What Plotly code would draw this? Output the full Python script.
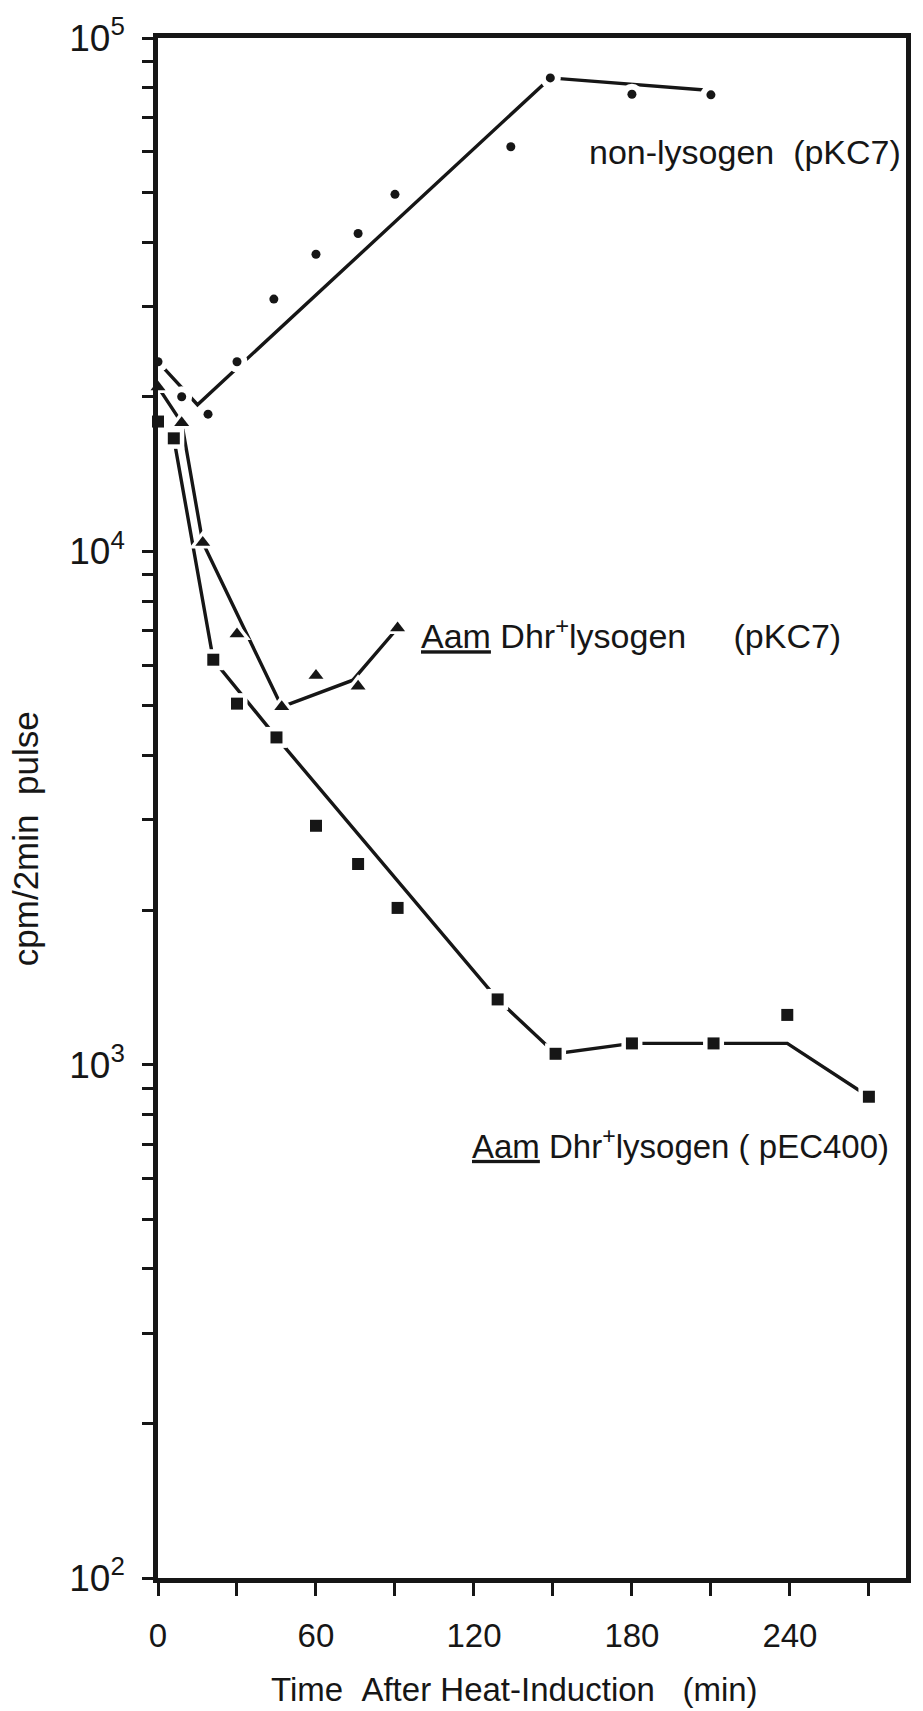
import plotly.graph_objects as go

# ---------------- data ----------------
# non-lysogen (pKC7): filled dots
nonlys_t = [0, 9, 19, 30, 44, 60, 76, 90, 134, 149, 180, 210]
nonlys_v = [23400, 20000, 18500, 23400, 31000, 37900, 41600, 49600, 61400, 83600, 77700, 77500]
# hand-drawn curve through the non-lysogen data
nonlys_line_t = [0, 15, 149, 210]
nonlys_line_v = [23400, 19300, 83600, 79000]

# Aam Dhr+ lysogen (pKC7): triangles
tri_t = [0, 9, 17, 30, 47, 60, 76, 91]
tri_v = [20900, 17800, 10400, 6900, 4980, 5730, 5460, 7090]
tri_line_t = [0, 9, 17, 47, 74, 91]
tri_line_v = [20900, 17800, 10400, 4980, 5610, 7090]

# Aam Dhr+ lysogen (pEC400): squares
sq_t = [0, 6, 21, 30, 45, 60, 76, 91, 129, 151, 180, 211, 239, 270]
sq_v = [17900, 16600, 6150, 5050, 4340, 2920, 2460, 2020, 1340, 1050, 1100, 1100, 1250, 866]
sq_line_t = [0, 6, 21, 45, 129, 151, 180, 211, 239, 270]
sq_line_v = [17900, 16600, 6150, 4340, 1340, 1050, 1100, 1100, 1100, 866]

# axis ticks
x_tick_vals = [0, 30, 60, 90, 120, 150, 180, 210, 240, 270]
x_tick_text = ["0", "", "60", "", "120", "", "180", "", "240", ""]
y_decades = [2, 3, 4]
y_tick_vals = [k * 10 ** d for d in y_decades for k in range(1, 10)] + [10 ** 5]
y_tick_text = [("10<sup>%d</sup>" % d if k == 1 else "") for d in y_decades for k in range(1, 10)] + ["10<sup>5</sup>"]

label_nonlys = "non-lysogen\u00a0\u00a0(pKC7)"
label_tri = "<u>Aam</u>\u00a0Dhr<sup>+</sup>lysogen\u00a0\u00a0\u00a0\u00a0\u00a0(pKC7)"
label_sq = "<u>Aam</u>\u00a0Dhr<sup>+</sup>lysogen\u00a0(\u00a0pEC400)"
x_title = "Time\u00a0\u00a0After\u00a0Heat-Induction\u00a0\u00a0\u00a0(min)"
y_title = "cpm/2min\u00a0\u00a0pulse"

# ---------------- figure ----------------
INK = "#161616"
FONT = "Liberation Sans, Arial, Helvetica, sans-serif"
W, H = 923, 1711
ML, MR, MT, MB = 158, 15, 30, 133

fig = go.Figure()

# curves
for xs, ys in [(nonlys_line_t, nonlys_line_v), (tri_line_t, tri_line_v), (sq_line_t, sq_line_v)]:
    fig.add_trace(go.Scatter(x=xs, y=ys, mode="lines",
                             line=dict(color=INK, width=3.4), hoverinfo="skip"))

# white halos so the curves break around the symbols (as in the original)
for xs, ys, sym, sz in [(nonlys_t, nonlys_v, "circle", 21),
                        (tri_t, tri_v, "triangle-up", 24),
                        (sq_t, sq_v, "square", 21)]:
    fig.add_trace(go.Scatter(x=xs, y=ys, mode="markers", cliponaxis=False,
                             marker=dict(symbol=sym, size=sz, color="white"),
                             hoverinfo="skip"))

# symbols
fig.add_trace(go.Scatter(x=nonlys_t, y=nonlys_v, mode="markers", cliponaxis=False,
                         marker=dict(symbol="circle", size=9, color=INK), name="non-lysogen (pKC7)"))
fig.add_trace(go.Scatter(x=tri_t, y=tri_v, mode="markers", cliponaxis=False,
                         marker=dict(symbol="triangle-up", size=13, color=INK), name="Aam Dhr+ lysogen (pKC7)"))
fig.add_trace(go.Scatter(x=sq_t, y=sq_v, mode="markers", cliponaxis=False,
                         marker=dict(symbol="square", size=12, color=INK), name="Aam Dhr+ lysogen (pEC400)"))

plot_w = W - ML - MR
px_per_min = 2.64
x_max = plot_w / px_per_min


def px_to_paper_x(px):
    return (px - ML) / plot_w


def px_to_paper_y(py):
    return (H - MB - py) / (H - MT - MB)


fig.update_layout(
    width=W, height=H, autosize=False,
    margin=dict(l=ML, r=MR, t=MT, b=MB, pad=0),
    paper_bgcolor="white", plot_bgcolor="white",
    showlegend=False,
    font=dict(family=FONT, color=INK),
    xaxis=dict(range=[0, x_max], tickmode="array", tickvals=x_tick_vals, ticktext=x_tick_text,
               ticks="outside", ticklen=13, tickwidth=2.6, tickcolor=INK,
               showline=True, linewidth=4.5, linecolor=INK, mirror=True,
               showgrid=False, zeroline=False,
               tickfont=dict(size=33, family=FONT, color=INK), ticklabelstandoff=12),
    yaxis=dict(type="log", range=[2, 5], tickmode="array", tickvals=y_tick_vals, ticktext=y_tick_text,
               ticks="outside", ticklen=11, tickwidth=2.6, tickcolor=INK,
               showline=True, linewidth=4.5, linecolor=INK, mirror=True,
               showgrid=False, zeroline=False,
               tickfont=dict(size=37, family=FONT, color=INK), ticklabelstandoff=10),
)

annots = [
    dict(text=label_nonlys, x=163, y=4.777, size=34),
    dict(text=label_tri, x=99, y=3.84, size=34),
    dict(text=label_sq, x=118.5, y=2.845, size=33),
]
for a in annots:
    fig.add_annotation(x=a["x"], y=a["y"], xref="x", yref="y", text=a["text"], showarrow=False,
                       xanchor="left", yanchor="middle",
                       font=dict(size=a["size"], family=FONT, color=INK))

fig.add_annotation(x=px_to_paper_x(515), y=px_to_paper_y(1690), xref="paper", yref="paper",
                   text=x_title, showarrow=False, xanchor="center", yanchor="middle",
                   font=dict(size=33, family=FONT, color=INK))
fig.add_annotation(x=px_to_paper_x(25), y=px_to_paper_y(835), xref="paper", yref="paper",
                   text=y_title, showarrow=False, xanchor="center", yanchor="middle", textangle=-90,
                   font=dict(size=35, family=FONT, color=INK))

fig.write_html("out.html")
